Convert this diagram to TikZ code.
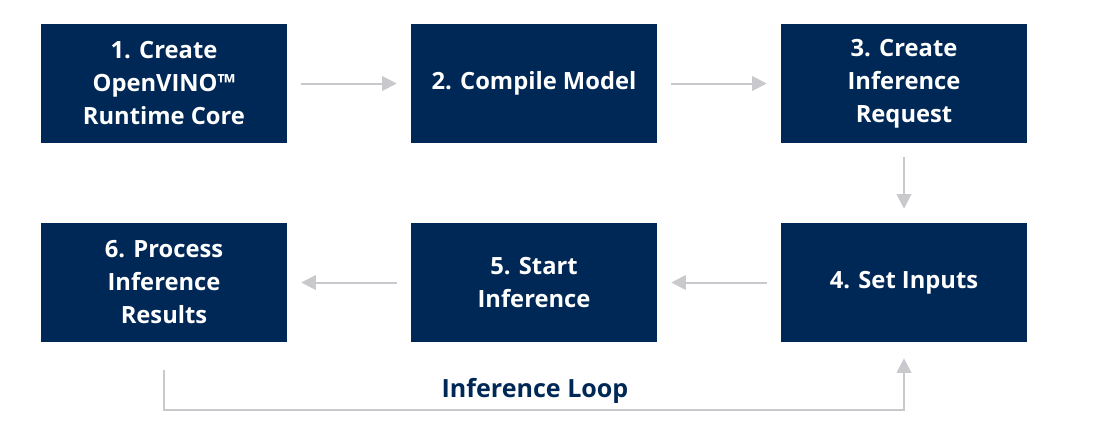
\documentclass[tikz,border=0pt]{standalone}
\usepackage{fontspec}
\setmainfont{Open Sans}
\usetikzlibrary{arrows.meta,calc}
\definecolor{ovblue}{HTML}{002856}
\definecolor{ovgray}{HTML}{C9C9CD}
\begin{document}
\begin{tikzpicture}[x=0.75pt,y=-0.75pt,
  stepbox/.style={fill=ovblue,draw=none,minimum width=184.5pt,minimum height=89.25pt,inner sep=0pt,
    text=white,align=center,font=\fontsize{17.8}{24.75}\selectfont\bfseries},
  flow/.style={draw=ovgray,line width=1.5pt,-{Triangle[length=11pt,width=11pt]},shorten <=10.5pt,shorten >=10.5pt}]
\useasboundingbox (0,0) rectangle (1098,443);
\node[stepbox] (s1) at (164,83.5) {1. Create\\OpenVINO™\\Runtime Core};
\node[stepbox] (s2) at (534,83.5) {2. Compile Model};
\node[stepbox] (s3) at (904,83.5) {3. Create\\Inference\\Request};
\node[stepbox] (s4) at (904,282.5) {4. Set Inputs};
\node[stepbox] (s5) at (534,282.5) {5. Start\\Inference};
\node[stepbox] (s6) at (164,282.5) {6. Process\\Inference\\Results};
\draw[flow] (s1) -- (s2);
\draw[flow] (s2) -- (s3);
\draw[flow] (s3) -- (s4);
\draw[flow] (s4) -- (s5);
\draw[flow] (s5) -- (s6);
\coordinate (l1) at (164,370);
\coordinate (l2) at (164,410);
\coordinate (l3) at (904,410);
\draw[draw=ovgray,line width=1.5pt,-{Triangle[length=11pt,width=11pt]},shorten >=12pt] (l1) -- (l2) -- (l3) -- (s4.south);
\node[text=ovblue,font=\fontsize{18.8}{22}\selectfont\bfseries] (loop) at (535,391) {Inference Loop};
\end{tikzpicture}
\end{document}
